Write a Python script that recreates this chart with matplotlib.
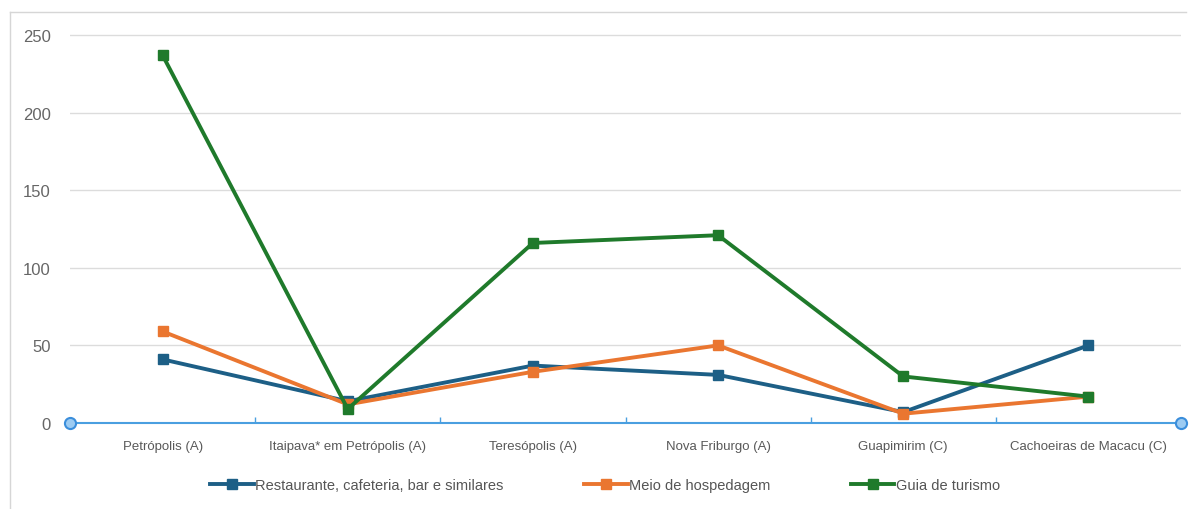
import matplotlib.pyplot as plt
import numpy as np
from matplotlib.lines import Line2D

plt.rcParams["font.family"] = ["Liberation Sans Narrow", "Liberation Sans", "DejaVu Sans"]

cities = [
    "Petrópolis (A)",
    "Itaipava* em Petrópolis (A)",
    "Teresópolis (A)",
    "Nova Friburgo (A)",
    "Guapimirim (C)",
    "Cachoeiras de Macacu (C)",
]
restaurante = [41, 14, 37, 31, 7, 50]
hospedagem = [59, 12, 33, 50, 6, 17]
guia = [237, 9, 116, 121, 30, 17]

series_names = [
    "Restaurante, cafeteria, bar e similares",
    "Meio de hospedagem",
    "Guia de turismo",
]
series_colors = ["#1d5f86", "#ea7630", "#1f7a2b"]

fig = plt.figure(figsize=(11.91, 5.10), dpi=100)
ax = fig.add_axes([70 / 1191, 86 / 510, 1111 / 1191, 403.5 / 510])

x = np.arange(len(cities))
for vals, color in zip([restaurante, hospedagem, guia], series_colors):
    ax.plot(x, vals, color=color, lw=2.8, marker="s", ms=6.5, zorder=3)

ax.set_xlim(-0.5, len(cities) - 0.5)
ax.set_ylim(0, 260)
ax.set_yticks([0, 50, 100, 150, 200, 250])
ax.yaxis.grid(True, color="#dcdcdc", lw=1)
ax.set_axisbelow(True)
ax.tick_params(axis="y", length=0, pad=14, labelsize=12, labelcolor="#666666")

ax.set_xticks(x)
ax.set_xticklabels(cities)
ax.set_xticks(np.arange(0.5, len(cities) - 1, 1), minor=True)
ax.tick_params(axis="x", which="major", length=0, pad=12, labelsize=9.5, labelcolor="#595959")
ax.tick_params(axis="x", which="minor", direction="in", length=4, color="#4a9fe0", width=1)

for side in ["top", "right", "left"]:
    ax.spines[side].set_visible(False)
ax.spines["bottom"].set_color("#4a9fe0")
ax.spines["bottom"].set_linewidth(1.5)

# range handles at both ends of the category axis
ax.plot([-0.5, len(cities) - 0.5], [0, 0], ls="none", marker="o", ms=8,
        mfc="#9ccbf2", mec="#3b8edb", mew=1.5, clip_on=False, zorder=4)

# outer frame lines
fig.add_artist(Line2D([10 / 1191, 10 / 1191], [0, 1 - 13 / 510], color="#d6d6d6", lw=1))
fig.add_artist(Line2D([10 / 1191, 1186 / 1191], [1 - 13 / 510, 1 - 13 / 510], color="#d6d6d6", lw=1))

handles = [Line2D([], [], color=c, lw=2.8, marker="s", ms=6.5) for c in series_colors]
fig.legend(handles, series_names, loc="center", bbox_to_anchor=(0.508, 1 - 486 / 510),
           ncol=3, frameon=False, fontsize=10.5, handlelength=3.0, handletextpad=0.1,
           columnspacing=5.5, labelcolor="#555555")

fig.savefig("out.png", dpi=100)
